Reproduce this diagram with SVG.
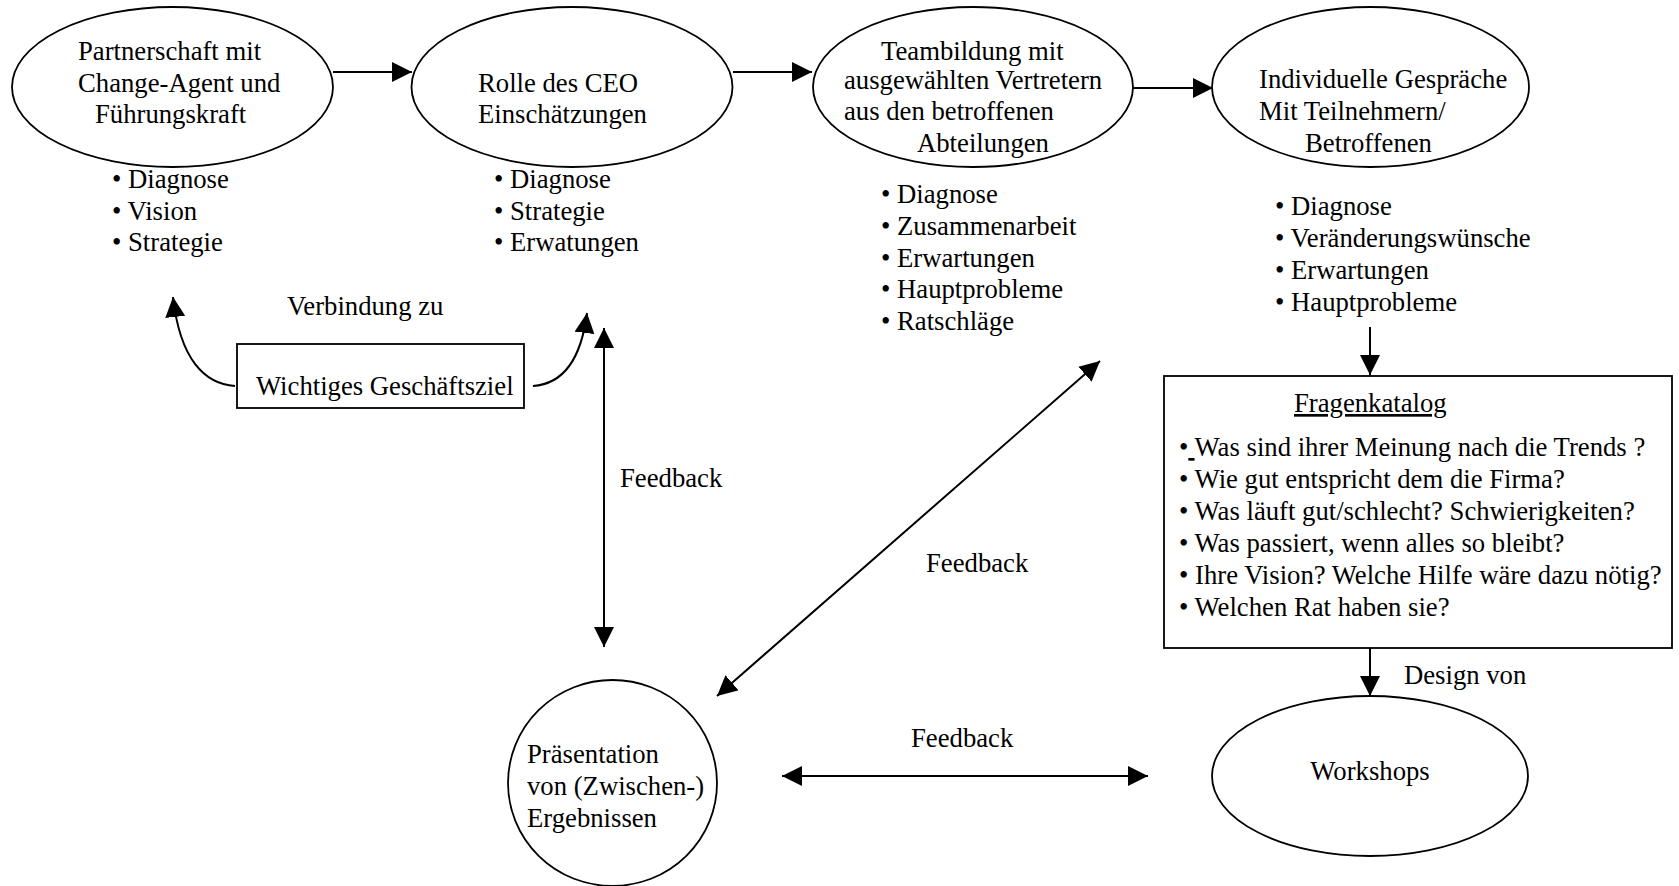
<svg xmlns="http://www.w3.org/2000/svg" width="1679" height="886" viewBox="0 0 1679 886">
<style>
  text { font-family: "Liberation Serif", "Times New Roman", serif; font-size: 26.7px; fill: #000; }
  .shape { fill: #fff; stroke: #000; stroke-width: 1.8; }
  .conn { fill: none; stroke: #000; stroke-width: 2; }
</style>
<defs>
  <marker id="ah" markerUnits="userSpaceOnUse" markerWidth="20" markerHeight="20" viewBox="0 0 20 20" refX="20" refY="10" orient="auto-start-reverse">
    <path d="M0,0 L20,10 L0,20 Z" fill="#000"/>
  </marker>
</defs>
<rect x="0" y="0" width="1679" height="886" fill="#fff"/>

<g id="connectors">
  <line class="conn" x1="333" y1="72" x2="412" y2="72" marker-end="url(#ah)"/>
  <line class="conn" x1="733" y1="72" x2="812" y2="72" marker-end="url(#ah)"/>
  <line class="conn" x1="1133" y1="88" x2="1213" y2="88" marker-end="url(#ah)"/>
  <line class="conn" x1="1370" y1="327" x2="1370" y2="375" marker-end="url(#ah)"/>
  <line class="conn" x1="1370" y1="648" x2="1370" y2="696" marker-end="url(#ah)"/>
  <line class="conn" x1="604" y1="328" x2="604" y2="647" marker-start="url(#ah)" marker-end="url(#ah)"/>
  <line class="conn" x1="1100" y1="361" x2="717" y2="696" marker-start="url(#ah)" marker-end="url(#ah)"/>
  <line class="conn" x1="782" y1="776" x2="1148" y2="776" marker-start="url(#ah)" marker-end="url(#ah)"/>
  <path class="conn" d="M235,386 C205,384 180,360 173,297" marker-end="url(#ah)"/>
  <path class="conn" d="M533,386 C562,384 581,360 587,313" marker-end="url(#ah)"/>
  <text x="620" y="487">Feedback</text>
  <text x="926" y="572">Feedback</text>
  <text x="911" y="747">Feedback</text>
  <text x="1404" y="684">Design von</text>
  <text x="287" y="315">Verbindung zu</text>
</g>

<g id="node-partnerschaft">
  <ellipse class="shape" cx="172.5" cy="87" rx="160.5" ry="80"/>
  <text x="78" y="60">Partnerschaft mit</text>
  <text x="78" y="92">Change-Agent und</text>
  <text x="95" y="123">Führungskraft</text>
  <text x="112" y="188">• Diagnose</text>
  <text x="112" y="220">• Vision</text>
  <text x="112" y="251">• Strategie</text>
</g>

<g id="node-ceo">
  <ellipse class="shape" cx="572" cy="87" rx="160.5" ry="80"/>
  <text x="478" y="92">Rolle des CEO</text>
  <text x="478" y="123">Einschätzungen</text>
  <text x="494" y="188">• Diagnose</text>
  <text x="494" y="220">• Strategie</text>
  <text x="494" y="251">• Erwatungen</text>
</g>

<g id="node-teambildung">
  <ellipse class="shape" cx="973" cy="87" rx="160" ry="80"/>
  <text x="881" y="60">Teambildung mit</text>
  <text x="844" y="89">ausgewählten Vertretern</text>
  <text x="844" y="120">aus den betroffenen</text>
  <text x="917" y="152">Abteilungen</text>
  <text x="881" y="203">• Diagnose</text>
  <text x="881" y="235">• Zusammenarbeit</text>
  <text x="881" y="267">• Erwartungen</text>
  <text x="881" y="298">• Hauptprobleme</text>
  <text x="881" y="330">• Ratschläge</text>
</g>

<g id="node-gespraeche">
  <ellipse class="shape" cx="1370.5" cy="87" rx="158.5" ry="80"/>
  <text x="1259" y="88">Individuelle Gespräche</text>
  <text x="1259" y="120">Mit Teilnehmern/</text>
  <text x="1305" y="152">Betroffenen</text>
  <text x="1275" y="215">• Diagnose</text>
  <text x="1275" y="247">• Veränderungswünsche</text>
  <text x="1275" y="279">• Erwartungen</text>
  <text x="1275" y="311">• Hauptprobleme</text>
</g>

<g id="node-geschaeftsziel">
  <rect class="shape" x="237" y="344" width="287" height="64"/>
  <text x="256" y="395">Wichtiges Geschäftsziel</text>
</g>

<g id="node-fragenkatalog">
  <rect class="shape" x="1164" y="376" width="508" height="272"/>
  <text x="1294" y="412" text-decoration="underline">Fragenkatalog</text>
  <text x="1179" y="456">•<tspan text-decoration="underline"> </tspan>Was sind ihrer Meinung nach die Trends ?</text>
  <text x="1179" y="488">• Wie gut entspricht dem die Firma?</text>
  <text x="1179" y="520">• Was läuft gut/schlecht? Schwierigkeiten?</text>
  <text x="1179" y="552">• Was passiert, wenn alles so bleibt?</text>
  <text x="1179" y="584">• Ihre Vision? Welche Hilfe wäre dazu nötig?</text>
  <text x="1179" y="616">• Welchen Rat haben sie?</text>
</g>

<g id="node-praesentation">
  <ellipse class="shape" cx="612.5" cy="783" rx="104.5" ry="103"/>
  <text x="527" y="763">Präsentation</text>
  <text x="527" y="795">von (Zwischen-)</text>
  <text x="527" y="827">Ergebnissen</text>
</g>

<g id="node-workshops">
  <ellipse class="shape" cx="1370" cy="776" rx="158" ry="80"/>
  <text x="1370" y="780" text-anchor="middle">Workshops</text>
</g>
</svg>
